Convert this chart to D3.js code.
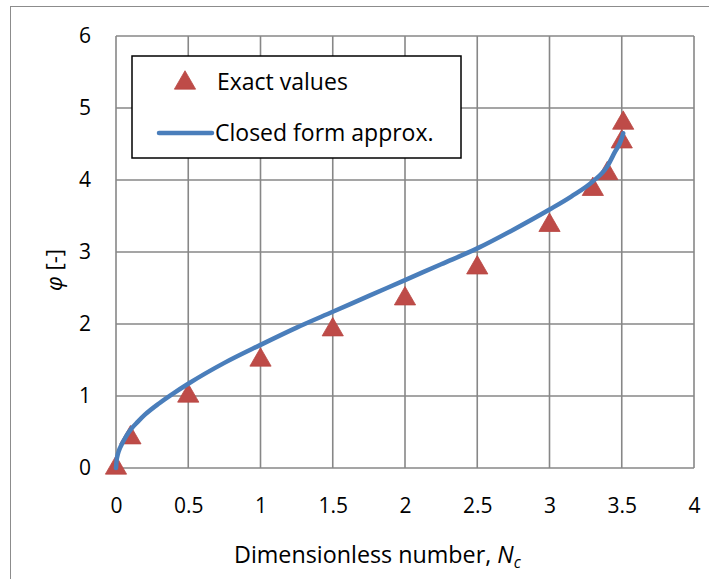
<!DOCTYPE html>
<html>
<head>
<meta charset="utf-8">
<script src="https://cdn.jsdelivr.net/npm/d3@7"></script>
<style>
  html, body { margin: 0; padding: 0; background: #fff; }
  svg { display: block; }
  text { font-family: "Open Sans", Lato, sans-serif; fill: #000; }
</style>
</head>
<body>
<svg id="chart" width="709" height="579"></svg>
<script>
// Exact solution points
const exactN   = [0, 0.1, 0.5, 1.0, 1.5, 2.0, 2.5, 3.0, 3.3, 3.4, 3.5, 3.51];
const exactPhi = [0, 0.42, 1.0, 1.5, 1.92, 2.35, 2.78, 3.37, 3.87, 4.09, 4.53, 4.79];

// Closed form approximation, sampled along the curve
const approxN   = [0, 0.005, 0.01, 0.02, 0.04, 0.07, 0.1, 0.15, 0.2, 0.3, 0.4, 0.5, 0.75, 1.0, 1.25, 1.5, 1.75, 2.0, 2.25, 2.5, 2.75, 3.0, 3.15, 3.3, 3.4, 3.45, 3.5, 3.51];
const approxPhi = [0, 0.12, 0.17, 0.24, 0.33, 0.44, 0.53, 0.64, 0.74, 0.90, 1.04, 1.17, 1.46, 1.71, 1.95, 2.17, 2.39, 2.61, 2.83, 3.05, 3.31, 3.59, 3.77, 3.98, 4.19, 4.38, 4.58, 4.65];

const xTicks = [0, 0.5, 1, 1.5, 2, 2.5, 3, 3.5, 4];
const yTicks = [0, 1, 2, 3, 4, 5, 6];

const seriesNames = ["Exact values", "Closed form approx."];

const svg = d3.select("#chart");
const gridColor = "#878787";
const triColor = "#BE4B48";
const lineColor = "#4A7EBB";
const font = "'Open Sans', Lato, sans-serif";

// chart frame
svg.append("rect")
  .attr("x", 10.5).attr("y", 6.5)
  .attr("width", 760).attr("height", 640)
  .attr("fill", "#fff").attr("stroke", "#8c8c8c").attr("stroke-width", 1);

const plot = { left: 116, right: 694, top: 36, bottom: 468 };
const x = d3.scaleLinear().domain([0, 4]).range([plot.left, plot.right]);
const y = d3.scaleLinear().domain([0, 6]).range([plot.bottom, plot.top]);

// grid
const grid = svg.append("g");
grid.selectAll(".vx").data(xTicks).join("line")
  .attr("x1", d => x(d)).attr("x2", d => x(d))
  .attr("y1", plot.top).attr("y2", plot.bottom)
  .attr("stroke", gridColor).attr("stroke-width", 1.6);
grid.selectAll(".hy").data(yTicks).join("line")
  .attr("x1", plot.left).attr("x2", plot.right)
  .attr("y1", d => y(d)).attr("y2", d => y(d))
  .attr("stroke", gridColor).attr("stroke-width", 1.6);

// axes (labels only; lines come from the grid)
const xAxis = d3.axisBottom(x).tickValues(xTicks).tickSize(0).tickPadding(0)
  .tickFormat(d => String(d));
const gx = svg.append("g").attr("transform", `translate(0,${plot.bottom})`).call(xAxis);
gx.select(".domain").remove();
gx.selectAll("text").attr("dy", null).attr("y", 45).attr("font-size", 21)
  .style("font-family", font).attr("fill", "#000");

const yAxis = d3.axisLeft(y).tickValues(yTicks).tickSize(0).tickPadding(0)
  .tickFormat(d => String(d));
const gy = svg.append("g").attr("transform", `translate(${plot.left},0)`).call(yAxis);
gy.select(".domain").remove();
gy.selectAll("text").attr("x", -25).attr("dy", "0.33em").attr("font-size", 21)
  .style("font-family", font).attr("fill", "#000");

// markers
const tri = d3.symbol().type(d3.symbolTriangle).size(195);
svg.append("g").selectAll("path").data(exactN.map((n, i) => [n, exactPhi[i]])).join("path")
  .attr("d", tri)
  .attr("transform", d => `translate(${x(d[0])},${y(d[1])})`)
  .attr("fill", triColor).attr("stroke", "#B94743").attr("stroke-width", 0.8);

// approximation curve
const line = d3.line().x(d => x(d[0])).y(d => y(d[1])).curve(d3.curveMonotoneX);
svg.append("path")
  .datum(approxN.map((n, i) => [n, approxPhi[i]]))
  .attr("d", line)
  .attr("fill", "none").attr("stroke", lineColor).attr("stroke-width", 4.5)
  .attr("stroke-linecap", "round").attr("stroke-linejoin", "round");

// axis titles
const xt = svg.append("text").attr("x", 234).attr("y", 563).attr("text-anchor", "start")
  .attr("font-size", 23.3);
xt.append("tspan").text("Dimensionless number, ");
xt.append("tspan").attr("font-style", "italic").text("N");
xt.append("tspan").attr("font-style", "italic").attr("font-size", 15.5).attr("dy", 5).text("c");

const yt = svg.append("text").attr("transform", "translate(62,270) rotate(-90)")
  .attr("text-anchor", "middle").attr("font-size", 22);
yt.append("tspan").attr("font-style", "italic").text("φ");
yt.append("tspan").text(" [-]");

// legend
const lg = svg.append("g");
lg.append("rect").attr("x", 132).attr("y", 56).attr("width", 329).attr("height", 102)
  .attr("fill", "#fff").attr("stroke", "#000").attr("stroke-width", 1.5);
lg.append("path").attr("d", tri).attr("transform", "translate(185,83)")
  .attr("fill", triColor).attr("stroke", "#B94743").attr("stroke-width", 0.8);
lg.append("text").attr("x", 217).attr("y", 90).attr("font-size", 23).text(seriesNames[0]);
lg.append("line").attr("x1", 159).attr("x2", 212).attr("y1", 133).attr("y2", 133)
  .attr("stroke", lineColor).attr("stroke-width", 4.5).attr("stroke-linecap", "round");
lg.append("text").attr("x", 215).attr("y", 141).attr("font-size", 23).text(seriesNames[1]);
</script>
</body>
</html>
